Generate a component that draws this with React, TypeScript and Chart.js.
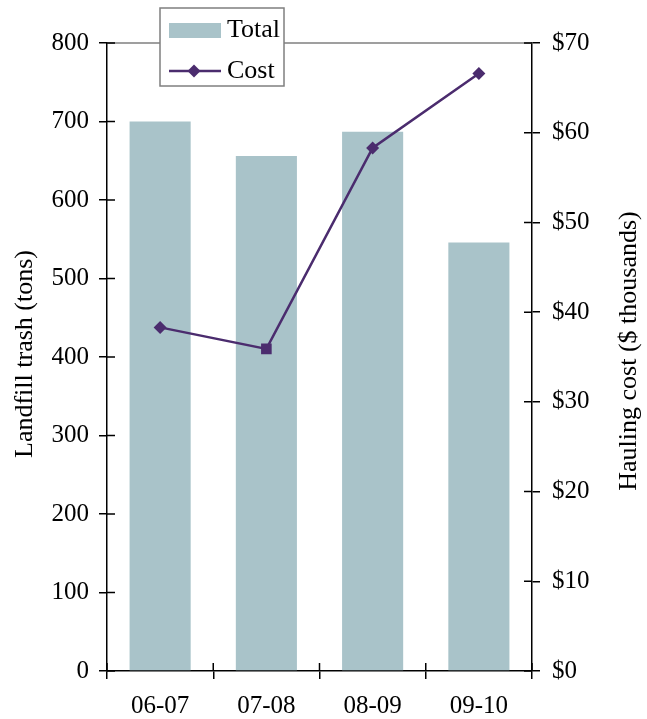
import React, { useEffect, useRef } from "react";
import { Chart, registerables } from "chart.js";

Chart.register(...registerables);

const categories = ["06-07", "07-08", "08-09", "09-10"];
const totalTons = [700, 656, 687, 546];
const costThousands = [38.3, 35.9, 58.3, 66.6];
const pointStyles = ["rectRot", "rect", "rectRot", "rectRot"];
const pointRadii = [6.5, 7.5, 6.5, 6.5];
const leftTitle = "Landfill trash (tons)";
const rightTitle = "Hauling cost ($ thousands)";

const BAR_COLOR = "#a9c3c9";
const LINE_COLOR = "#4b2c6e";
const FONT = "'Liberation Serif', serif";
const TICK_SIZE = 25;
const TITLE_SIZE = 26;

const decorPlugin = {
  id: "decor",
  afterDraw(chart: any) {
    const { ctx, chartArea } = chart;
    const { left, right, top, bottom } = chartArea;
    const yS = chart.scales.y;
    const y1S = chart.scales.y1;
    const xS = chart.scales.x;
    ctx.save();
    ctx.strokeStyle = "#7f7f7f";
    ctx.lineWidth = 1.5;
    ctx.beginPath();
    ctx.moveTo(left, top);
    ctx.lineTo(right, top);
    ctx.stroke();
    ctx.strokeStyle = "#000";
    ctx.lineWidth = 1.5;
    ctx.beginPath();
    yS.ticks.forEach((t: any) => {
      const p = yS.getPixelForValue(t.value);
      ctx.moveTo(left, p);
      ctx.lineTo(left + 8, p);
    });
    y1S.ticks.forEach((t: any) => {
      const p = y1S.getPixelForValue(t.value);
      ctx.moveTo(right - 8, p);
      ctx.lineTo(right, p);
    });
    const n = categories.length;
    for (let i = 0; i <= n; i++) {
      let px;
      if (i === 0) px = left;
      else if (i === n) px = right;
      else px = (xS.getPixelForValue(i - 1) + xS.getPixelForValue(i)) / 2;
      ctx.moveTo(px, bottom);
      ctx.lineTo(px, bottom - 8);
    }
    ctx.stroke();
    ctx.fillStyle = "#000";
    ctx.font = `${TITLE_SIZE}px ${FONT}`;
    ctx.textAlign = "center";
    ctx.textBaseline = "middle";
    ctx.save();
    ctx.translate(25, 354);
    ctx.rotate(-Math.PI / 2);
    ctx.fillText(leftTitle, 0, 0);
    ctx.restore();
    ctx.save();
    ctx.translate(629, 351);
    ctx.rotate(-Math.PI / 2);
    ctx.fillText(rightTitle, 0, 0);
    ctx.restore();
    const bx = 160, by = 8, bw = 124, bh = 78;
    ctx.fillStyle = "#fff";
    ctx.fillRect(bx, by, bw, bh);
    ctx.strokeStyle = "#7f7f7f";
    ctx.lineWidth = 1.5;
    ctx.strokeRect(bx, by, bw, bh);
    const ds0 = chart.data.datasets[0];
    const ds1 = chart.data.datasets[1];
    ctx.fillStyle = BAR_COLOR;
    ctx.fillRect(169, 23, 52, 15);
    ctx.strokeStyle = LINE_COLOR;
    ctx.lineWidth = 2.5;
    ctx.beginPath();
    ctx.moveTo(169, 71);
    ctx.lineTo(221, 71);
    ctx.stroke();
    ctx.fillStyle = LINE_COLOR;
    ctx.beginPath();
    ctx.moveTo(194, 64.5);
    ctx.lineTo(200.5, 71);
    ctx.lineTo(194, 77.5);
    ctx.lineTo(187.5, 71);
    ctx.closePath();
    ctx.fill();
    ctx.fillStyle = "#000";
    ctx.font = `${TITLE_SIZE}px ${FONT}`;
    ctx.textBaseline = "middle";
    ctx.textAlign = "left";
    ctx.fillText(ds0.label, 227, 30);
    ctx.fillText(ds1.label, 227, 71);
    ctx.restore();
  },
};

export default function App() {
  const ref = useRef<HTMLCanvasElement | null>(null);
  useEffect(() => {
    let chart: Chart | null = null;
    let cancelled = false;
    const build = () => {
      if (cancelled || !ref.current) return;
      chart = new Chart(ref.current, {
        type: "bar",
        data: {
          labels: categories,
          datasets: [
            {
              type: "bar",
              label: "Total",
              data: totalTons,
              backgroundColor: BAR_COLOR,
              yAxisID: "y",
              barPercentage: 0.575,
              categoryPercentage: 1,
              order: 1,
            },
            {
              type: "line",
              label: "Cost",
              data: costThousands,
              borderColor: LINE_COLOR,
              backgroundColor: LINE_COLOR,
              borderWidth: 2.5,
              pointStyle: pointStyles as any,
              pointRadius: pointRadii,
              pointBorderWidth: 0,
              yAxisID: "y1",
              order: 0,
            } as any,
          ],
        },
        options: {
          animation: false,
          responsive: false,
          maintainAspectRatio: false,
          layout: { padding: { top: 43, left: 0, right: 0, bottom: 0 } },
          plugins: { legend: { display: false }, tooltip: { enabled: false } },
          scales: {
            x: {
              grid: { drawOnChartArea: false, tickLength: 8, color: "#000", lineWidth: 1.5, offset: true },
              border: { color: "#000", width: 1.5 },
              ticks: { color: "#000", font: { family: FONT, size: TICK_SIZE }, padding: 12 },
              afterFit: (s: any) => { s.height = 48; },
            },
            y: {
              position: "left",
              min: 0,
              max: 800,
              ticks: { stepSize: 100, color: "#000", font: { family: FONT, size: TICK_SIZE }, padding: 10 },
              grid: { drawOnChartArea: false, tickLength: 8, color: "#000", lineWidth: 1.5 },
              border: { color: "#000", width: 1.5 },
              afterFit: (s: any) => { s.width = 107; },
            },
            y1: {
              position: "right",
              min: 0,
              max: 70,
              ticks: {
                stepSize: 10,
                color: "#000",
                font: { family: FONT, size: TICK_SIZE },
                padding: 12,
                callback: (v: any) => `$${v}`,
              },
              grid: { drawOnChartArea: false, tickLength: 8, color: "#000", lineWidth: 1.5 },
              border: { color: "#000", width: 1.5 },
              afterFit: (s: any) => { s.width = 115; },
            },
          },
        },
        plugins: [decorPlugin],
      });
    };
    const fontsApi = (document as any).fonts;
    if (fontsApi && fontsApi.load) {
      Promise.all([
        fontsApi.load(`${TICK_SIZE}px "Liberation Serif"`),
        fontsApi.load(`${TITLE_SIZE}px "Liberation Serif"`),
      ])
        .catch(() => null)
        .then(build);
    } else {
      build();
    }
    return () => {
      cancelled = true;
      if (chart) chart.destroy();
    };
  }, []);
  return (
    <div style={{ position: "fixed", left: 0, top: 0, width: 647, height: 719, background: "#fff", fontFamily: "'Liberation Serif', serif" }}>
      <span style={{ position: "absolute", left: -9999, top: 0, fontSize: 25 }}>0123456789$</span>
      <canvas ref={ref} width={647} height={719} style={{ width: 647, height: 719 }} />
    </div>
  );
}
